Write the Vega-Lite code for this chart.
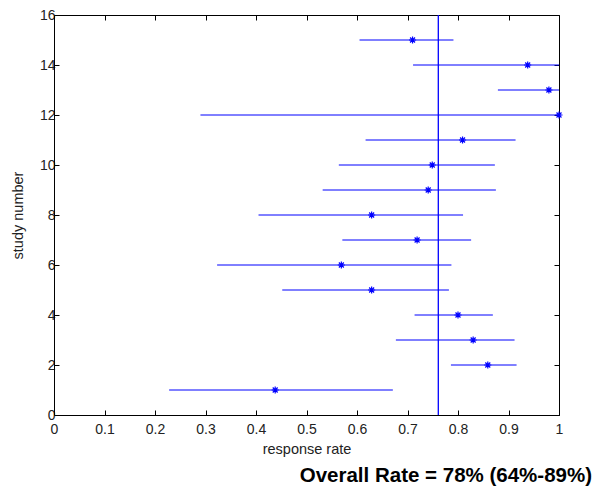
{
  "$schema": "https://vega.github.io/schema/vega-lite/v6.json",
  "width": 505,
  "height": 400,
  "autosize": {"type": "none"},
  "padding": {"left": 54, "top": 15, "right": 41, "bottom": 80},
  "background": "white",
  "config": {
    "view": {"stroke": "#000000", "strokeWidth": 1},
    "font": "Liberation Sans",
    "axis": {
      "grid": false,
      "domainColor": "#000000",
      "tickColor": "#000000",
      "tickSize": -5,
      "labelFont": "Liberation Sans",
      "labelFontSize": 14,
      "labelColor": "#222222",
      "titleFont": "Liberation Sans",
      "titleFontSize": 14.5,
      "titleFontWeight": "normal",
      "titleColor": "#222222"
    }
  },
  "title": {
    "text": "Overall Rate = 78% (64%-89%)",
    "orient": "bottom",
    "anchor": "end",
    "frame": "group",
    "font": "Liberation Sans",
    "fontSize": 20.5,
    "fontWeight": "bold",
    "color": "#000000",
    "dx": 33,
    "offset": 10
  },
  "datasets": {
    "studies": [
      {"study": 1, "rate": 0.438, "lo": 0.228, "hi": 0.671},
      {"study": 2, "rate": 0.859, "lo": 0.786, "hi": 0.916},
      {"study": 3, "rate": 0.830, "lo": 0.677, "hi": 0.912},
      {"study": 4, "rate": 0.800, "lo": 0.714, "hi": 0.869},
      {"study": 5, "rate": 0.629, "lo": 0.452, "hi": 0.782},
      {"study": 6, "rate": 0.569, "lo": 0.323, "hi": 0.787},
      {"study": 7, "rate": 0.719, "lo": 0.571, "hi": 0.826},
      {"study": 8, "rate": 0.629, "lo": 0.405, "hi": 0.810},
      {"study": 9, "rate": 0.741, "lo": 0.532, "hi": 0.875},
      {"study": 10, "rate": 0.749, "lo": 0.564, "hi": 0.873},
      {"study": 11, "rate": 0.809, "lo": 0.617, "hi": 0.914},
      {"study": 12, "rate": 1.0, "lo": 0.290, "hi": 1.0},
      {"study": 13, "rate": 0.980, "lo": 0.879, "hi": 1.0},
      {"study": 14, "rate": 0.938, "lo": 0.711, "hi": 1.0},
      {"study": 15, "rate": 0.710, "lo": 0.605, "hi": 0.791}
    ],
    "pooled": [{"pooled": 0.761}]
  },
  "layer": [
    {
      "data": {"name": "studies"},
      "mark": {"type": "rule", "stroke": "#0000ff", "strokeWidth": 1},
      "encoding": {
        "x": {
          "field": "lo", "type": "quantitative",
          "scale": {"domain": [0, 1], "nice": false, "zero": false},
          "axis": {"orient": "bottom", "values": [0, 0.1, 0.2, 0.3, 0.4, 0.5, 0.6, 0.7, 0.8, 0.9, 1], "format": "~g", "labelPadding": 12, "titlePadding": 6, "title": "response rate", "labelFlush": false, "labelOverlap": false}
        },
        "x2": {"field": "hi"},
        "y": {
          "field": "study", "type": "quantitative",
          "scale": {"domain": [0, 16], "nice": false, "zero": false},
          "axis": {"orient": "left", "values": [0, 2, 4, 6, 8, 10, 12, 14, 16], "labelPadding": 4, "titlePadding": 14, "title": "study number", "labelFlush": false, "labelOverlap": false}
        }
      }
    },
    {
      "data": {"name": "studies"},
      "mark": {
        "type": "point",
        "shape": "M-1,0L1,0M0,-1L0,1M-0.7,-0.7L0.7,0.7M-0.7,0.7L0.7,-0.7",
        "filled": false,
        "stroke": "#0000ff",
        "strokeWidth": 1.2,
        "size": 50,
        "opacity": 1
      },
      "encoding": {
        "x": {
          "field": "rate", "type": "quantitative",
          "axis": {"orient": "top", "values": [0, 0.1, 0.2, 0.3, 0.4, 0.5, 0.6, 0.7, 0.8, 0.9, 1], "labels": false, "title": null, "domain": false}
        },
        "y": {
          "field": "study", "type": "quantitative",
          "axis": {"orient": "right", "values": [0, 2, 4, 6, 8, 10, 12, 14, 16], "labels": false, "title": null, "domain": false}
        }
      }
    },
    {
      "data": {"name": "pooled"},
      "mark": {"type": "rule", "stroke": "#0000ff", "strokeWidth": 1.3},
      "encoding": {
        "x": {"field": "pooled", "type": "quantitative", "axis": null}
      }
    }
  ],
  "resolve": {"axis": {"x": "independent", "y": "independent"}}
}
